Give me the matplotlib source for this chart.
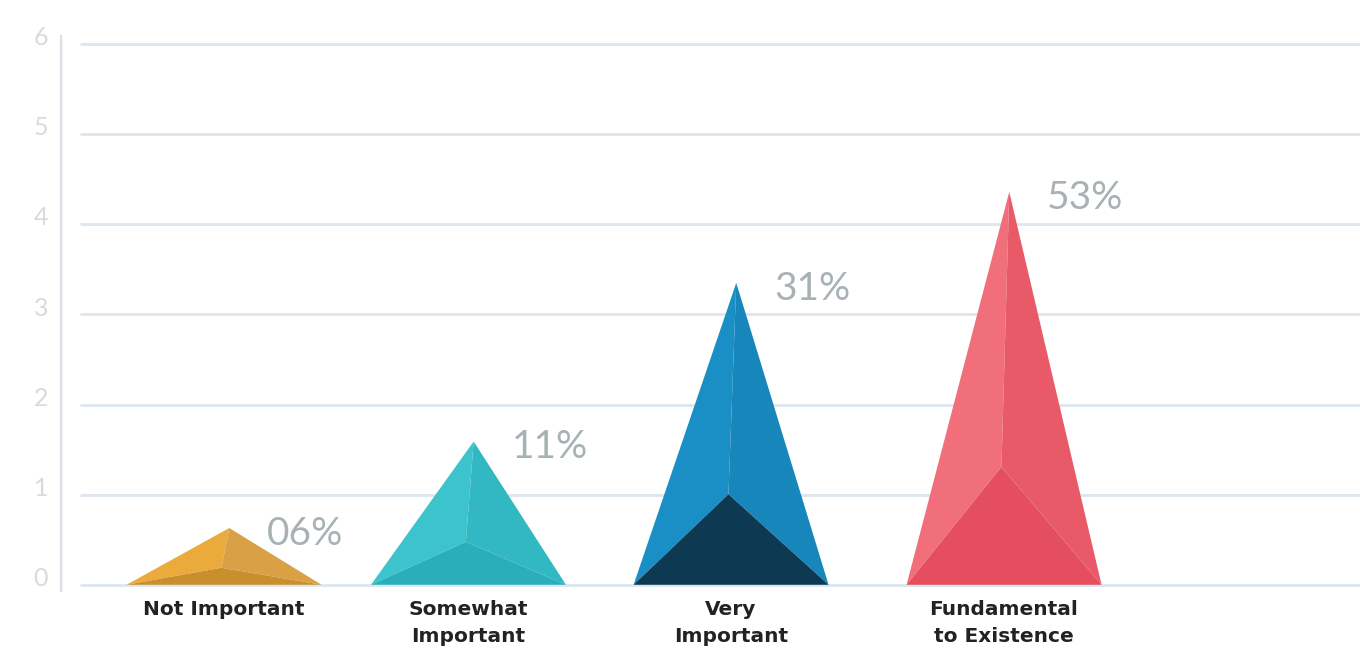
#%% LIBRERIAS:
import matplotlib
matplotlib.use("Agg")
import matplotlib.pyplot as plt
import numpy as np

#%% DATOS:
categorias = ["Not Important", "Somewhat\nImportant", "Very\nImportant", "Fundamental\nto Existence"]
alturas = [0.63, 1.59, 3.35, 4.36]          # altura del pico en la escala 0-6
etiquetas = ["06%", "11%", "31%", "53%"]
yticks = [0, 1, 2, 3, 4, 5, 6]

# layout (centros de cada piramide, en unidades de categoria)
centros = [0, 0.94, 1.95, 3.0]
media_base = 0.375
# colores de cada cara: izquierda, derecha, abajo
caras = [
    ("#eaab3c", "#d9a046", "#c88f2c"),
    ("#3dc3cc", "#31b8c2", "#2aafba"),
    ("#1a8fc5", "#1786bb", "#0d3a52"),
    ("#f06f7b", "#e95a69", "#e44e5e"),
]

#%% FIGURA:
fig = plt.figure(figsize=(13.6, 6.54), dpi=100)
ax = fig.add_axes([60 / 1360, 62 / 654, 1300 / 1360, 557 / 654])
ax.set_xlim(-0.631, 4.369)
ax.set_ylim(-0.08, 6.1)

# grilla horizontal (no toca el eje)
ax.hlines(yticks, xmin=-0.554, xmax=4.369, color="#dce6ef", lw=2, zorder=1)
# eje vertical
ax.axvline(-0.631, color="#d8dfe6", lw=2.5, zorder=1)

for i, (c, h) in enumerate(zip(centros, alturas)):
    izq, der = c - media_base, c + media_base
    pico = (c + 0.02, h)
    interior = (c - 0.01, h * 0.3)
    ci, cd, cb = caras[i]
    ax.fill([izq, pico[0], interior[0]], [0, h, interior[1]], color=ci, lw=0, zorder=3)
    ax.fill([der, pico[0], interior[0]], [0, h, interior[1]], color=cd, lw=0, zorder=3)
    ax.fill([izq, der, interior[0]], [0, 0, interior[1]], color=cb, lw=0, zorder=3)
    ax.annotate(etiquetas[i], xy=pico, xytext=(38, -6), textcoords="offset pixels",
                ha="left", va="center", fontsize=28, color="#a8b2b4",
                family="Lato", zorder=4)
    ax.text(c, -0.17, categorias[i], ha="center", va="top", fontsize=14.5,
            color="#222222", family="DejaVu Sans", fontweight="bold",
            linespacing=1.5)

# etiquetas del eje y (muy claritas)
for v in yticks:
    ax.text(-0.705, v + 0.07, str(v), ha="center", va="center", fontsize=18,
            color="#dadada", family="Lato", clip_on=False)

ax.set_axis_off()
fig.savefig("out.png", dpi=100, facecolor="white")
